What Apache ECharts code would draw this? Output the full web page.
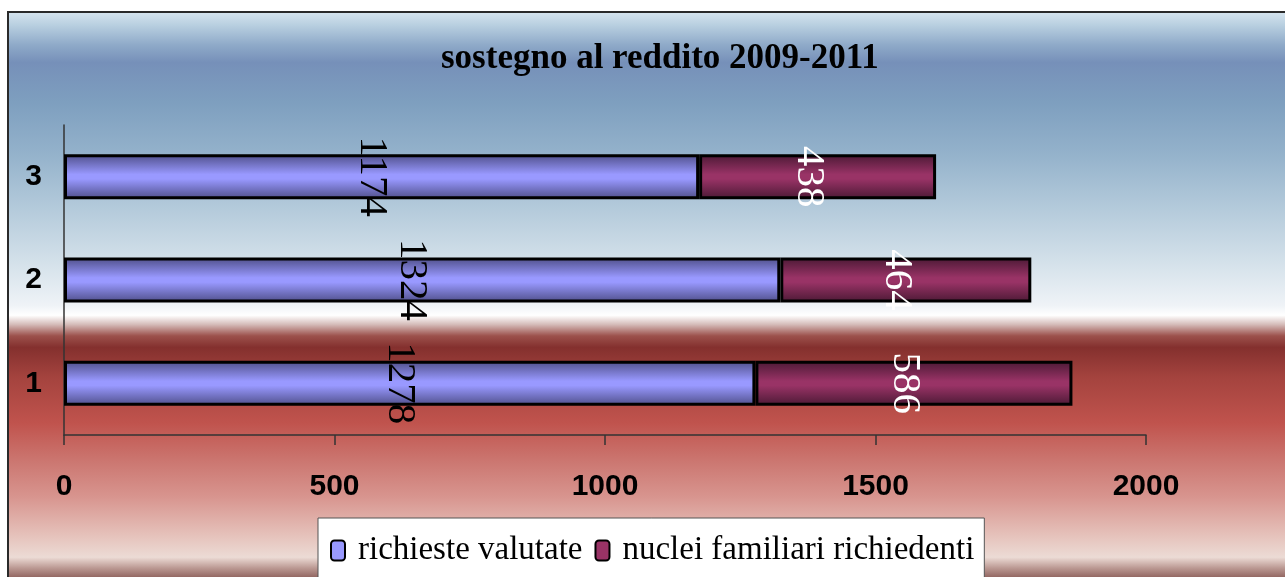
<!DOCTYPE html>
<html>
<head>
<meta charset="utf-8">
<script src="https://cdn.jsdelivr.net/npm/echarts@6/dist/echarts.min.js"></script>
<style>
html,body{margin:0;padding:0;background:#fff;}
#c{width:1285px;height:577px;}
</style>
</head>
<body>
<div id="c"></div>
<script>
var categories = ['1', '2', '3'];
var seriesNames = ['richieste valutate', 'nuclei familiari richiedenti'];
var richiesteValutate = [1278, 1324, 1174];
var nucleiFamiliari = [586, 464, 438];
var xTicks = [0, 500, 1000, 1500, 2000];

var chart = echarts.init(document.getElementById('c'), null, {renderer: 'canvas'});

function barGrad(edge, mid) {
  return new echarts.graphic.LinearGradient(0, 0, 0, 1, [
    {offset: 0, color: edge},
    {offset: 0.45, color: mid},
    {offset: 0.55, color: mid},
    {offset: 1, color: edge}
  ]);
}

var bgGrad = new echarts.graphic.LinearGradient(0, 0, 0, 1, [
  {offset: 0.000, color: '#d8e6f0'},
  {offset: 0.025, color: '#b8cfe0'},
  {offset: 0.060, color: '#8ea9c8'},
  {offset: 0.090, color: '#7690b9'},
  {offset: 0.160, color: '#7e9fbf'},
  {offset: 0.250, color: '#94b2cb'},
  {offset: 0.340, color: '#b2c9da'},
  {offset: 0.440, color: '#d4e1ea'},
  {offset: 0.515, color: '#eff3f7'},
  {offset: 0.532, color: '#ffffff'},
  {offset: 0.548, color: '#d5bcb9'},
  {offset: 0.568, color: '#9c514c'},
  {offset: 0.588, color: '#84302e'},
  {offset: 0.640, color: '#a4433e'},
  {offset: 0.720, color: '#c0534d'},
  {offset: 0.790, color: '#cc7872'},
  {offset: 0.850, color: '#d8958f'},
  {offset: 0.920, color: '#e6c4bd'},
  {offset: 0.955, color: '#ecdbd5'},
  {offset: 0.975, color: '#b8958f'},
  {offset: 1.000, color: '#7a4844'}
]);

var option = {
  backgroundColor: '#ffffff',
  animation: false,
  graphic: [{
    type: 'rect',
    z: -10,
    silent: true,
    shape: {x: 8, y: 12, width: 1290, height: 570},
    style: {fill: bgGrad, stroke: '#2a2a2a', lineWidth: 2}
  }],
  title: {
    text: 'sostegno al reddito 2009-2011',
    left: 436,
    top: 36,
    textStyle: {
      fontFamily: 'Liberation Serif',
      fontWeight: 'bold',
      fontSize: 35,
      color: '#000'
    }
  },
  legend: {
    left: 318,
    top: 518,
    orient: 'horizontal',
    backgroundColor: '#ffffff',
    borderColor: '#555',
    borderWidth: 1,
    borderRadius: 0,
    padding: [16, 10, 12, 12],
    itemGap: 12,
    itemWidth: 14,
    itemHeight: 20,
    textStyle: {fontFamily: 'Liberation Serif', fontSize: 33, color: '#000', padding: [0, 0, 0, 8]},
    data: [
      {name: seriesNames[0], icon: 'roundRect', itemStyle: {color: '#9999ff', borderColor: '#000', borderWidth: 2}},
      {name: seriesNames[1], icon: 'roundRect', itemStyle: {color: '#993366', borderColor: '#000', borderWidth: 2}}
    ]
  },
  grid: {left: 64, right: 139, top: 125, bottom: 142, containLabel: false},
  xAxis: {
    type: 'value',
    min: xTicks[0],
    max: xTicks[xTicks.length - 1],
    interval: xTicks[1] - xTicks[0],
    splitLine: {show: false},
    axisLine: {show: true, lineStyle: {color: '#333', width: 1.5}},
    axisTick: {show: true, length: 10, lineStyle: {color: '#333', width: 1.5}},
    axisLabel: {
      margin: 37,
      formatter: function (v) { return String(v); },
      fontFamily: 'Liberation Sans',
      fontWeight: 'bold',
      fontSize: 30,
      color: '#000'
    }
  },
  yAxis: {
    type: 'category',
    data: categories,
    axisLine: {show: true, lineStyle: {color: '#333', width: 1.5}},
    axisTick: {show: false},
    axisLabel: {
      margin: 22,
      fontFamily: 'Liberation Sans',
      fontWeight: 'bold',
      fontSize: 30,
      color: '#000'
    }
  },
  series: [{
    name: seriesNames[0],
    type: 'bar',
    stack: 'tot',
    barWidth: 45,
    data: richiesteValutate,
    itemStyle: {color: barGrad('#4e4e88', '#9999ff'), borderColor: '#000', borderWidth: 3},
    label: {
      show: true,
      position: 'inside',
      rotate: -90,
      offset: [0, 10],
      fontFamily: 'Liberation Serif',
      fontSize: 41,
      color: '#000'
    }
  }, {
    name: seriesNames[1],
    type: 'bar',
    stack: 'tot',
    barWidth: 45,
    data: nucleiFamiliari,
    itemStyle: {color: barGrad('#4a1934', '#993366'), borderColor: '#000', borderWidth: 3},
    label: {
      show: true,
      position: 'inside',
      rotate: -90,
      offset: [0, 9],
      fontFamily: 'Liberation Serif',
      fontSize: 41,
      color: '#fff'
    }
  }]
};
chart.setOption(option);
</script>
</body>
</html>
